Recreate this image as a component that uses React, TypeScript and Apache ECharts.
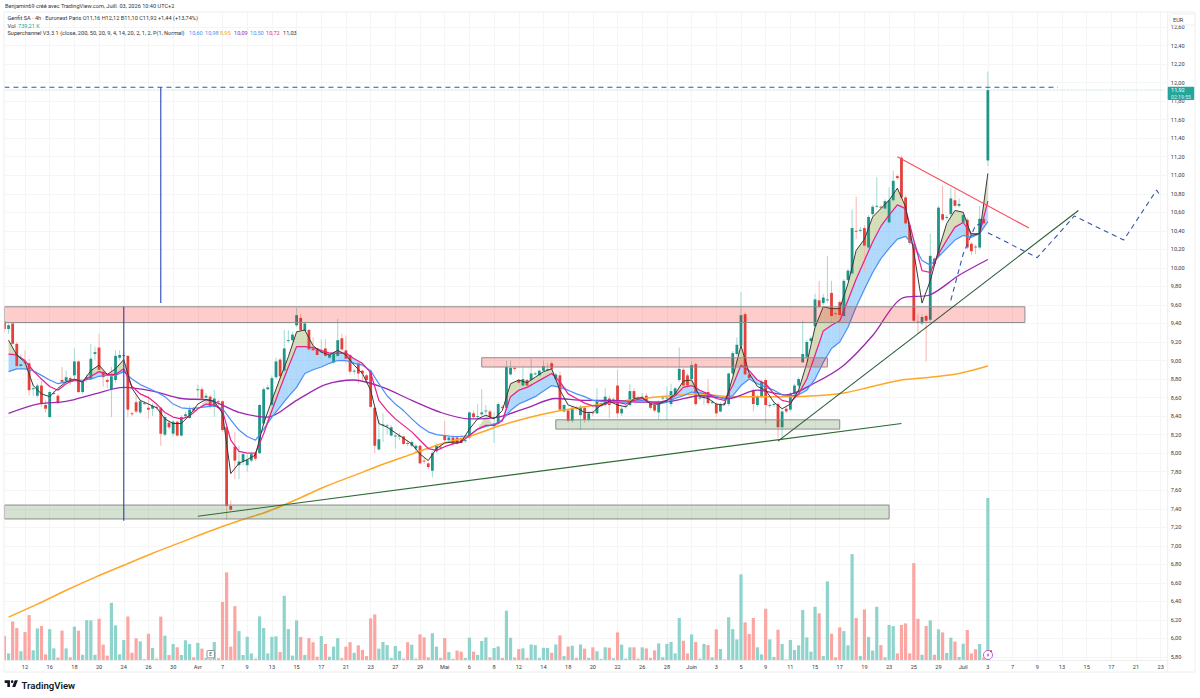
import * as echarts from "echarts";
import { useEffect, useRef } from "react";

// candles, one value per 4h bar
const opens = [
  9.42,9.34,9.40,9.18,8.94,8.98,8.97,8.69,8.62,8.73,
  8.52,8.39,8.64,8.62,8.79,8.78,8.81,8.84,8.99,8.66,
  8.79,8.80,9.07,9.14,8.88,8.79,8.69,8.79,9.03,9.05,
  9.05,8.43,8.55,8.44,8.54,8.49,8.48,8.50,8.49,8.20,
  8.33,8.21,8.34,8.19,8.40,8.38,8.48,8.68,8.69,8.60,
  8.61,8.50,8.56,8.56,8.28,7.43,8.07,7.87,7.91,7.87,
  7.92,8.00,8.00,8.32,8.69,8.52,8.82,9.01,8.89,9.21,
  9.22,9.38,9.46,9.32,9.33,9.13,9.13,9.09,9.13,9.03,
  8.98,9.05,9.24,9.11,9.06,8.88,8.97,8.89,8.84,8.89,
  8.49,8.04,8.30,8.29,8.19,8.18,8.18,8.18,8.11,8.08,
  8.05,8.08,7.92,7.89,7.81,8.02,8.07,8.19,8.14,8.17,
  8.17,8.15,8.13,8.17,8.43,8.39,8.42,8.45,8.45,8.29,
  8.32,8.50,8.49,8.85,8.92,8.79,8.73,8.79,8.79,8.85,
  8.84,8.89,8.90,8.97,8.80,8.84,8.45,8.46,8.35,8.49,
  8.41,8.49,8.36,8.44,8.43,8.53,8.52,8.59,8.57,8.73,
  8.43,8.50,8.52,8.67,8.60,8.60,8.62,8.54,8.52,8.44,
  8.59,8.59,8.53,8.63,8.79,8.90,8.84,8.80,8.96,8.59,
  8.60,8.66,8.55,8.53,8.45,8.53,8.53,8.86,9.07,9.16,
  9.50,8.85,8.68,8.52,8.61,8.79,8.52,8.52,8.53,8.28,
  8.48,8.47,8.64,8.73,8.98,9.04,9.21,9.37,9.65,9.62,
  9.65,9.73,9.51,9.63,9.48,9.87,9.94,10.40,10.40,10.43,
  10.22,10.58,10.66,10.66,10.64,10.49,10.73,10.99,11.19,10.76,
  10.46,10.26,9.42,9.40,9.48,9.44,10.10,10.13,10.58,10.54,
  10.58,10.73,10.67,10.49,10.52,10.26,10.23,10.22,10.53,11.16,
];
const closes = [
  9.34,9.38,9.18,8.94,8.96,8.97,8.68,8.70,8.73,8.53,
  8.48,8.66,8.65,8.54,8.77,8.82,8.79,8.99,8.66,8.77,
  8.82,9.02,9.09,8.90,8.82,8.77,8.83,9.05,9.06,9.06,
  8.47,8.42,8.45,8.56,8.54,8.47,8.51,8.49,8.21,8.39,
  8.28,8.34,8.19,8.39,8.42,8.47,8.46,8.69,8.59,8.62,
  8.50,8.59,8.55,8.25,7.43,7.39,7.92,7.91,7.99,7.93,
  7.99,7.94,8.52,8.69,8.71,8.81,8.99,8.83,9.13,9.22,
  9.28,9.49,9.33,9.40,9.12,9.11,9.06,9.10,9.05,9.06,
  9.07,9.22,9.12,9.02,8.88,8.89,8.86,8.86,8.79,8.50,
  8.08,8.15,8.31,8.30,8.28,8.19,8.19,8.10,8.10,8.12,
  8.08,7.89,7.91,7.85,8.00,8.08,8.06,8.14,8.17,8.10,
  8.10,8.11,8.14,8.44,8.39,8.40,8.44,8.46,8.39,8.32,
  8.53,8.49,8.93,8.92,8.91,8.76,8.80,8.73,8.86,8.86,
  8.89,8.94,8.91,8.91,8.85,8.47,8.52,8.35,8.49,8.48,
  8.50,8.36,8.43,8.43,8.56,8.54,8.61,8.52,8.58,8.43,
  8.48,8.51,8.67,8.59,8.59,8.61,8.57,8.49,8.46,8.55,
  8.60,8.60,8.67,8.70,8.91,8.73,8.73,8.95,8.53,8.60,
  8.61,8.54,8.55,8.43,8.53,8.54,8.86,9.08,9.17,9.49,
  8.85,8.81,8.53,8.61,8.77,8.52,8.52,8.53,8.28,8.45,
  8.45,8.64,8.73,8.80,9.07,9.20,9.24,9.66,9.58,9.68,
  9.66,9.48,9.50,9.49,9.86,9.97,10.43,10.39,10.41,10.24,
  10.55,10.66,10.67,10.65,10.72,10.73,10.94,10.97,10.76,10.48,
  10.27,9.43,9.41,9.47,9.43,10.13,10.04,10.65,10.52,10.55,
  10.75,10.67,10.69,10.57,10.22,10.18,10.22,10.53,10.48,11.92,
];
const highs = [
  9.44,9.40,9.40,9.20,9.07,9.11,9.02,8.75,8.75,8.78,
  8.57,8.68,8.67,8.64,8.93,8.89,8.83,9.13,9.00,8.79,
  8.85,9.18,9.15,9.29,8.90,8.82,8.93,9.11,9.11,9.09,
  9.06,8.45,8.63,8.58,8.56,8.62,8.54,8.52,8.50,8.42,
  8.35,8.36,8.35,8.41,8.45,8.51,8.50,8.74,8.72,8.65,
  8.63,8.68,8.58,8.57,8.30,7.49,8.23,8.08,8.01,7.99,
  8.01,8.02,8.53,8.71,8.74,8.84,9.03,9.03,9.33,9.33,
  9.31,9.57,9.50,9.42,9.34,9.25,9.14,9.23,9.23,9.07,
  9.09,9.45,9.29,9.27,9.07,8.91,8.99,8.90,8.86,8.90,
  8.50,8.36,8.43,8.32,8.30,8.21,8.22,8.19,8.14,8.14,
  8.10,8.09,7.95,7.90,8.02,8.10,8.09,8.35,8.19,8.19,
  8.18,8.20,8.16,8.45,8.46,8.53,8.69,8.52,8.47,8.44,
  8.55,8.52,9.00,9.00,8.93,8.80,8.93,8.80,9.02,8.88,
  8.90,9.00,8.97,8.99,8.87,8.88,8.53,8.47,8.51,8.51,
  8.52,8.50,8.45,8.46,8.70,8.57,8.70,8.62,8.60,8.90,
  8.50,8.53,8.75,8.70,8.62,8.65,8.65,8.56,8.54,8.57,
  8.62,8.72,8.75,8.72,9.14,8.92,8.86,8.99,8.98,8.62,
  8.65,8.80,8.57,8.55,8.55,8.56,8.87,9.10,9.25,9.74,
  9.52,8.87,8.70,8.63,8.79,8.81,8.55,8.56,8.55,8.47,
  8.50,8.66,8.75,8.82,9.43,9.22,9.26,9.72,9.86,9.72,
  10.13,9.86,9.53,9.65,9.88,9.99,10.63,10.77,10.44,10.46,
  10.57,10.68,10.98,10.68,10.74,10.87,11.05,11.01,11.21,10.78,
  10.48,10.28,9.50,9.50,9.50,10.37,10.12,10.67,10.89,10.57,
  10.86,10.85,10.75,10.59,10.54,10.28,10.25,10.67,10.71,12.12,
];
const lows = [
  9.30,9.29,9.17,8.90,8.91,8.90,8.62,8.62,8.60,8.50,
  8.44,8.38,8.63,8.53,8.75,8.77,8.74,8.78,8.65,8.64,
  8.77,8.79,9.00,8.87,8.72,8.70,8.39,8.76,9.00,9.03,
  8.39,8.40,8.43,8.42,8.52,8.37,8.40,8.47,8.08,8.18,
  8.26,8.18,8.18,8.18,8.38,8.37,8.44,8.60,8.57,8.58,
  8.48,8.39,8.50,8.23,7.28,7.38,7.72,7.72,7.87,7.80,
  7.90,7.92,7.99,8.30,8.68,8.50,8.80,8.80,8.87,9.19,
  9.20,9.36,9.32,9.31,9.10,9.09,9.05,8.95,9.03,9.00,
  8.96,9.04,9.10,8.97,8.85,8.85,8.75,8.79,8.75,8.49,
  8.00,8.03,8.12,8.20,8.18,8.05,8.14,8.09,8.08,8.06,
  8.00,7.88,7.88,7.83,7.74,8.00,8.04,8.12,8.12,8.08,
  8.09,8.10,8.11,8.15,8.37,8.37,8.40,8.42,8.37,8.11,
  8.30,8.47,8.47,8.84,8.89,8.74,8.71,8.71,8.70,8.84,
  8.83,8.88,8.88,8.90,8.78,8.46,8.44,8.33,8.33,8.46,
  8.25,8.33,8.34,8.40,8.42,8.51,8.50,8.38,8.55,8.38,
  8.40,8.48,8.50,8.57,8.57,8.58,8.55,8.47,8.44,8.36,
  8.57,8.36,8.50,8.62,8.77,8.71,8.70,8.76,8.51,8.57,
  8.52,8.52,8.53,8.39,8.44,8.52,8.51,8.84,9.05,9.14,
  8.84,8.79,8.45,8.50,8.59,8.32,8.49,8.50,8.16,8.14,
  8.43,8.45,8.62,8.71,8.98,9.02,9.19,9.35,9.56,9.60,
  9.62,9.39,9.46,9.20,9.46,9.85,9.92,10.31,10.38,9.97,
  10.20,10.56,10.64,10.63,10.62,10.47,10.71,10.95,10.74,10.44,
  10.25,9.41,9.29,9.38,8.99,9.42,10.02,10.11,10.50,10.52,
  10.56,10.65,10.65,10.47,10.20,10.14,10.15,10.20,10.45,11.10,
];
// volume in thousands
const volumes = [
  110,30,176,146,40,128,205,44,144,155,
  26,141,53,11,134,53,12,152,134,24,
  182,181,24,188,70,20,261,158,26,91,
  199,33,99,85,4,120,55,6,198,111,
  23,73,58,23,90,73,12,78,52,9,
  5,82,8,265,400,61,246,132,23,106,
  30,6,199,146,30,106,108,36,293,141,
  20,181,105,23,100,81,15,109,73,15,
  61,100,8,61,81,33,67,46,18,190,
  208,52,82,68,9,64,41,6,81,70,
  6,117,103,12,122,61,9,100,36,5,
  43,38,9,102,38,23,87,103,12,55,
  62,9,225,102,11,50,53,9,71,68,
  9,56,55,33,71,112,18,61,65,9,
  71,52,9,58,40,5,58,56,8,126,
  70,6,58,58,6,58,53,9,44,76,
  12,74,82,30,192,88,30,117,82,6,
  73,68,12,140,50,3,195,141,94,391,
  172,119,192,58,26,234,94,14,138,73,
  3,91,46,67,228,103,38,243,213,18,
  359,120,12,149,132,67,483,192,18,231,
  105,43,243,68,12,160,155,30,160,167,
  30,442,188,24,155,181,24,140,126,32,
  102,84,14,74,137,30,49,73,11,739.21,
];

// indicator lines, read at every second bar (bars 1, 3, 5 ... 239)
const fastLine = [
  9.22,9.06,8.98,8.73,8.64,8.61,8.70,8.77,8.80,8.77,
  8.89,8.95,8.85,8.91,9.01,8.70,8.57,8.53,8.49,8.37,
  8.32,8.32,8.41,8.53,8.58,8.56,8.43,7.78,7.89,7.93,
  7.98,8.32,8.57,8.81,9.04,9.31,9.33,9.16,9.09,9.06,
  9.11,9.06,8.95,8.86,8.68,8.32,8.28,8.22,8.16,8.10,
  7.99,7.92,8.05,8.11,8.12,8.12,8.26,8.37,8.41,8.37,
  8.46,8.75,8.79,8.76,8.82,8.88,8.91,8.68,8.52,8.49,
  8.44,8.44,8.52,8.56,8.52,8.50,8.59,8.60,8.53,8.53,
  8.57,8.64,8.78,8.79,8.61,8.59,8.53,8.52,8.82,9.16,
  8.86,8.72,8.68,8.55,8.48,8.53,8.68,8.97,9.36,9.58,
  9.56,9.56,9.83,10.19,10.31,10.55,10.64,10.73,10.86,10.66,
  10.17,9.62,9.86,10.19,10.48,10.62,10.60,10.35,10.37,11.02,
];
const pinkLine = [
  9.07,9.06,9.00,8.89,8.80,8.72,8.68,8.75,8.79,8.77,
  8.83,8.88,8.85,8.85,8.91,8.72,8.64,8.60,8.53,8.44,
  8.39,8.37,8.40,8.48,8.53,8.52,8.46,8.14,8.02,8.00,
  8.00,8.21,8.46,8.70,8.93,9.15,9.15,9.14,9.11,9.08,
  9.08,9.08,9.02,8.97,8.87,8.57,8.46,8.37,8.30,8.23,
  8.14,8.05,8.03,8.07,8.10,8.12,8.19,8.26,8.30,8.30,
  8.35,8.61,8.68,8.71,8.76,8.81,8.86,8.77,8.64,8.59,
  8.54,8.51,8.51,8.55,8.55,8.53,8.57,8.59,8.55,8.55,
  8.57,8.62,8.71,8.73,8.68,8.64,8.59,8.57,8.73,8.95,
  8.89,8.79,8.75,8.64,8.57,8.55,8.64,8.80,9.06,9.32,
  9.38,9.43,9.65,9.88,10.08,10.28,10.45,10.57,10.68,10.64,
  10.30,9.97,9.95,10.15,10.30,10.44,10.49,10.37,10.37,10.72,
];
const blueLine = [
  8.88,8.91,8.91,8.89,8.84,8.79,8.75,8.77,8.78,8.79,
  8.80,8.83,8.84,8.84,8.88,8.80,8.74,8.70,8.66,8.61,
  8.53,8.49,8.48,8.49,8.50,8.51,8.48,8.36,8.25,8.18,
  8.14,8.26,8.39,8.50,8.61,8.71,8.86,8.90,8.93,8.97,
  9.00,9.00,8.97,8.95,8.89,8.75,8.62,8.53,8.46,8.37,
  8.29,8.23,8.20,8.19,8.18,8.18,8.19,8.26,8.29,8.31,
  8.36,8.46,8.53,8.57,8.61,8.67,8.73,8.71,8.68,8.64,
  8.61,8.57,8.56,8.55,8.55,8.55,8.56,8.57,8.55,8.53,
  8.55,8.59,8.62,8.66,8.65,8.64,8.61,8.59,8.62,8.73,
  8.80,8.75,8.71,8.68,8.63,8.62,8.63,8.68,8.80,8.98,
  9.13,9.20,9.36,9.58,9.77,9.95,10.10,10.21,10.31,10.34,
  10.24,10.08,10.03,10.12,10.21,10.30,10.35,10.33,10.37,10.50,
];
// slow lines, read every seventh bar (bars 1, 8, 15 ... 239)
const purpleLine = [
  8.43,8.53,8.56,8.64,8.71,8.67,8.59,8.57,8.44,8.39,8.57,8.74,8.79,8.71,8.57,8.44,8.37,8.39,
  8.49,8.59,8.57,8.57,8.55,8.56,8.62,8.59,8.68,8.63,8.76,8.95,9.27,9.67,9.71,9.92,10.09,
];
const orangeLine = [
  6.23,6.37,6.52,6.66,6.79,6.92,7.04,7.16,7.27,7.37,7.50,7.64,7.76,7.88,7.99,8.10,8.18,8.29,
  8.38,8.45,8.50,8.55,8.59,8.62,8.64,8.61,8.61,8.61,8.62,8.65,8.72,8.79,8.82,8.86,8.94,
];

const tickLabels = [
  "12","16","18","20","24","26","30","Avr","7","9","13","15","17","21","23","27","29","Mai",
  "6","8","12","14","18","20","22","26","28","Juin","3","5","9","11","15","17","19","23","25",
  "29","Juil","3","7","9","13","15","17","21","23",
];

// drawings on the chart: [first bar, last bar, top price, bottom price]
const redZones = [[0, 248, 9.58, 9.41], [116, 200, 9.03, 8.93]];
const greenZones = [[134, 203, 8.36, 8.26], [0, 215, 7.44, 7.29]];
const resistanceLine = [[0, 11.95], [256, 11.95]];
const lastPriceLine = [[0, 11.92], [282, 11.92]];
const verticalLong = [[29, 9.58], [29, 7.27]];
const verticalShort = [[38, 11.95], [38, 9.62]];
const greenTrendA = [[47, 7.32], [218, 8.32]];
const greenTrendB = [[188, 8.13], [261, 10.62]];
const redTrend = [[217, 11.2], [249, 10.43]];
const dashedUp = [[230, 9.65], [233, 10.15], [236, 10.46], [238, 10.48]];
const dashedPath = [[239, 10.38], [251, 10.11], [260, 10.56], [272, 10.3], [280, 10.84], [281, 10.77]];

const barCount = 283;
const labelFont = "Roboto";
const teal = "#1f9488";
const red = "#e5403a";

const categories = Array.from({ length: barCount }, (_, i) =>
  (i - 5) % 6 === 0 && tickLabels[(i - 5) / 6] ? tickLabels[(i - 5) / 6] : ""
);
const isLabelled = (i: number) => categories[i] !== "";
const candles = opens.map((o, i) => [i, o, closes[i], lows[i], highs[i]]);
const fastAt = (k: number) => k * 2 + 1;
const slowAt = (k: number) => k * 7 + 1;

// quads between two lines, only where the condition holds at one end at least
function bandQuads(upper: number[], lower: number[], on: (k: number) => boolean) {
  const out: number[][] = [];
  for (let k = 0; k < upper.length - 1; k++) {
    const a = on(k);
    const b = on(k + 1);
    if (!a && !b) continue;
    out.push([
      fastAt(k), fastAt(k + 1),
      a ? upper[k] : lower[k], lower[k],
      b ? upper[k + 1] : lower[k + 1], lower[k + 1],
    ]);
  }
  return out;
}
const trendUp = (k: number) => pinkLine[k] > blueLine[k];
const blueBand = bandQuads(pinkLine, blueLine, trendUp);
const oliveBand = bandQuads(fastLine, pinkLine, (k) => trendUp(k) && fastLine[k] > pinkLine[k]);

const renderCandle = (_: any, api: any) => {
  const [x, yo] = api.coord([api.value(0), api.value(1)]);
  const yc = api.coord([api.value(0), api.value(2)])[1];
  const yl = api.coord([api.value(0), api.value(3)])[1];
  const yh = api.coord([api.value(0), api.value(4)])[1];
  const up = api.value(2) >= api.value(1);
  return {
    type: "group",
    children: [
      { type: "line", shape: { x1: x, y1: yh, x2: x, y2: yl }, style: { stroke: up ? "#a3dad3" : "#f8b6b3", lineWidth: 1 } },
      {
        type: "rect",
        shape: { x: x - 1.4, y: Math.min(yo, yc), width: 2.8, height: Math.max(Math.abs(yo - yc), 0.9) },
        style: { fill: up ? teal : red },
      },
    ],
  };
};

const bandRenderer = (fill: string) => (_: any, api: any) => {
  const i0 = api.value(0);
  const i1 = api.value(1);
  const points = [
    api.coord([i0, api.value(2)]),
    api.coord([i1, api.value(4)]),
    api.coord([i1, api.value(5)]),
    api.coord([i0, api.value(3)]),
  ];
  return { type: "polygon", shape: { points }, style: { fill } };
};

const zoneRenderer = (fill: string) => (_: any, api: any) => {
  const a = api.coord([api.value(0), api.value(2)]);
  const b = api.coord([api.value(1), api.value(3)]);
  return {
    type: "rect",
    shape: { x: a[0], y: a[1], width: b[0] - a[0], height: b[1] - a[1] },
    style: { fill, stroke: "#8c8c8c", lineWidth: 1 },
  };
};

const plainLine = (data: any[], color: string, width: number, z: number, extra: any = {}) => ({
  type: "line",
  data,
  showSymbol: false,
  silent: true,
  z,
  lineStyle: { color, width, ...extra },
});

const txt = (x: number, y: number, text: string, fill = "#3a3a3a", fontSize = 5.6, extra: any = {}) => ({
  type: "text",
  x,
  y,
  z: 120,
  style: { text, fill, fontSize, fontFamily: labelFont, verticalAlign: "middle", ...extra },
});

const legendValues: [number, string, string][] = [
  [189, "10,60", "#4d8ff7"],
  [205, "10,98", "#4d8ff7"],
  [220, "8,95", "#f5a623"],
  [234, "10,09", "#9c27b0"],
  [250, "10,50", "#4d8ff7"],
  [266, "10,72", "#e91e8c"],
  [283, "11,03", "#333333"],
];

const Chart: React.FC = () => {
  const chartRef = useRef<HTMLDivElement>(null);

  useEffect(() => {
    const chart = echarts.init(chartRef.current!, null, { renderer: "svg" });
    echarts.graphic.registerShape(
      "tvlogo",
      echarts.graphic.extendPath(
        "M14 6H2v6h6v9h6V6zm12 15h-7l6-15h7l-6 15zm-7-9a3 3 0 1 0 0-6 3 3 0 0 0 0 6z",
        {}
      ) as any
    );

    const left = 2.37;
    const width = 1164.5;
    const option = {
      animation: false,
      backgroundColor: "#ffffff",
      grid: [
        { left, width, top: 27, height: 630 },
        { left, width, top: 12, height: 648 },
      ],
      xAxis: [
        { type: "category", gridIndex: 0, data: categories, show: false },
        {
          type: "category",
          gridIndex: 1,
          data: categories,
          axisLine: { lineStyle: { color: "#eeeeee" } },
          axisTick: { show: false },
          axisLabel: {
            interval: (i: number) => isLabelled(i),
            color: "#3a3a3a",
            fontSize: 5.6,
            fontFamily: labelFont,
            margin: 4,
          },
          splitLine: {
            show: true,
            alignWithLabel: true,
            interval: (i: number) => isLabelled(i),
            lineStyle: { color: "#f5f5f5", width: 1 },
          },
        },
      ],
      yAxis: [
        {
          type: "value",
          gridIndex: 0,
          position: "right",
          min: 5.8,
          max: 12.6,
          interval: 0.2,
          axisLine: { show: false },
          axisTick: { show: false },
          axisLabel: {
            color: "#3a3a3a",
            fontSize: 5.6,
            fontFamily: labelFont,
            margin: 4,
            formatter: (v: number) => v.toFixed(2).replace(".", ","),
          },
          splitLine: { lineStyle: { color: "#f5f5f5", width: 1 } },
        },
        { type: "value", gridIndex: 1, min: 0, max: 2957, show: false, splitLine: { show: false } },
      ],
      series: [
        {
          type: "bar",
          xAxisIndex: 1,
          yAxisIndex: 1,
          barWidth: 3.2,
          z: 1,
          silent: true,
          data: volumes.map((v, i) => ({
            value: v,
            itemStyle: { color: closes[i] >= opens[i] ? "#8fd4cc" : "#fca6a3" },
          })),
        },
        { type: "custom", xAxisIndex: 0, yAxisIndex: 0, z: 2, clip: true, silent: true, data: blueBand, encode: { x: 0, y: 2 }, renderItem: bandRenderer("rgba(66,165,245,0.42)") },
        { type: "custom", xAxisIndex: 0, yAxisIndex: 0, z: 2, clip: true, silent: true, data: oliveBand, encode: { x: 0, y: 2 }, renderItem: bandRenderer("rgba(150,170,80,0.4)") },
        { type: "custom", xAxisIndex: 0, yAxisIndex: 0, z: 3, clip: true, silent: true, data: candles, encode: { x: 0, y: 1 }, renderItem: renderCandle },
        { ...plainLine(orangeLine.map((v, k) => [slowAt(k), v]), "#ffa726", 1.5, 4), smooth: 0.3 },
        { ...plainLine(purpleLine.map((v, k) => [slowAt(k), v]), "#9c27b0", 1.3, 4), smooth: 0.3 },
        plainLine(blueLine.map((v, k) => [fastAt(k), v]), "#4d8ff7", 1.2, 4),
        plainLine(pinkLine.map((v, k) => [fastAt(k), v]), "#e91e8c", 1.2, 4),
        plainLine(fastLine.map((v, k) => [fastAt(k), v]), "#3a3a3a", 1, 4),
        { type: "custom", xAxisIndex: 0, yAxisIndex: 0, z: 5, silent: true, data: redZones, encode: { x: 0, y: 2 }, renderItem: zoneRenderer("rgba(255,0,0,0.2)") },
        { type: "custom", xAxisIndex: 0, yAxisIndex: 0, z: 5, silent: true, data: greenZones, encode: { x: 0, y: 2 }, renderItem: zoneRenderer("rgba(70,125,45,0.22)") },
        plainLine(lastPriceLine, "#8fd4cc", 0.7, 5, { type: "dotted" }),
        plainLine(resistanceLine, "#3556a8", 1.1, 6, { type: [5, 4] }),
        plainLine(verticalLong, "#2943b0", 1.1, 6),
        plainLine(verticalShort, "#2943b0", 1.1, 6),
        plainLine(greenTrendA, "#2e6b34", 1.1, 6),
        plainLine(greenTrendB, "#2a5a3a", 1.1, 6),
        plainLine(redTrend, "#f7525f", 1.2, 6),
        plainLine(dashedUp, "#3556a8", 1.1, 6, { type: [5, 4] }),
        plainLine(dashedPath, "#3556a8", 1.1, 6, { type: [5, 4] }),
      ],
      graphic: [
        { type: "rect", z: 100, shape: { x: 0, y: 0, width: 4, height: 698 }, style: { fill: "#ffffff" } },
        { type: "rect", z: 100, shape: { x: 4, y: 12, width: 1191, height: 660 }, style: { fill: "none", stroke: "#eeeeee", lineWidth: 1 } },
        { type: "line", z: 100, shape: { x1: 1167.7, y1: 12, x2: 1167.7, y2: 672 }, style: { stroke: "#eeeeee", lineWidth: 1 } },
        { type: "rect", z: 110, shape: { x: 1170, y: 14, width: 25, height: 11, r: 2 }, style: { fill: "#ffffff", stroke: "#f0f0f0" } },
        txt(1173, 19.5, "EUR"),
        { type: "rect", z: 110, shape: { x: 1167.7, y: 86.7, width: 26.5, height: 13.3, r: 1 }, style: { fill: "#26a69a" } },
        txt(1171, 90.3, "11,92", "#ffffff"),
        txt(1171, 96.5, "02:19:55", "#d8f2ef", 5.2),
        txt(5, 6, "Benjamin69 créé avec TradingView.com, Juill. 03, 2026 10:40 UTC+2", "#333333", 5.6),
        txt(7.5, 18, "Genfit SA · 4h · Euronext Paris O11,16 H12,12 B11,10 C11,92 +1,44 (+13,74%)", "#333333", 5.6),
        txt(7.5, 25.5, "Vol", "#333333", 5.6),
        txt(18, 25.5, "739,21 K", "#26a69a", 5.6),
        txt(7.5, 33, "Superchannel V3.3.1 (close, 200, 50, 20, 9, 4, 14, 20, 2, 1, 2, P(1, Normal)", "#333333", 5.6),
        ...legendValues.map(([x, t, c]) => txt(x, 33, t, c, 5.6)),
        { type: "rect", z: 110, shape: { x: 207, y: 650.5, width: 7.4, height: 7.4, r: 1 }, style: { fill: "#ffffff", stroke: "#777777", lineWidth: 0.8 } },
        txt(209.3, 654.3, "E", "#444444", 4.6),
        { type: "circle", z: 110, shape: { cx: 988, cy: 655, r: 4.5 }, style: { fill: "#ffffff", stroke: "#b14fd8", lineWidth: 0.9 } },
        { type: "polygon", z: 111, shape: { points: [[988.8, 652.2], [986.5, 655.4], [987.9, 655.4], [987.2, 657.8], [989.6, 654.5], [988.2, 654.5]] }, style: { fill: "#b14fd8" } },
        { type: "circle", z: 111, shape: { cx: 991, cy: 651.2, r: 1 }, style: { fill: "#f23645" } },
        { type: "tvlogo", x: 3.8, y: 677.7, scaleX: 0.44, scaleY: 0.44, z: 120, style: { fill: "#131722" } },
        txt(21.5, 685.5, "TradingView", "#131722", 9.6, { fontWeight: 600 }),
      ],
    };

    chart.setOption(option as any);

    return () => {
      chart.dispose();
    };
  }, []);

  return (
    <div
      ref={chartRef}
      style={{ position: "fixed", left: 0, top: 0, width: 1200, height: 698 }}
    />
  );
};

export default Chart;
